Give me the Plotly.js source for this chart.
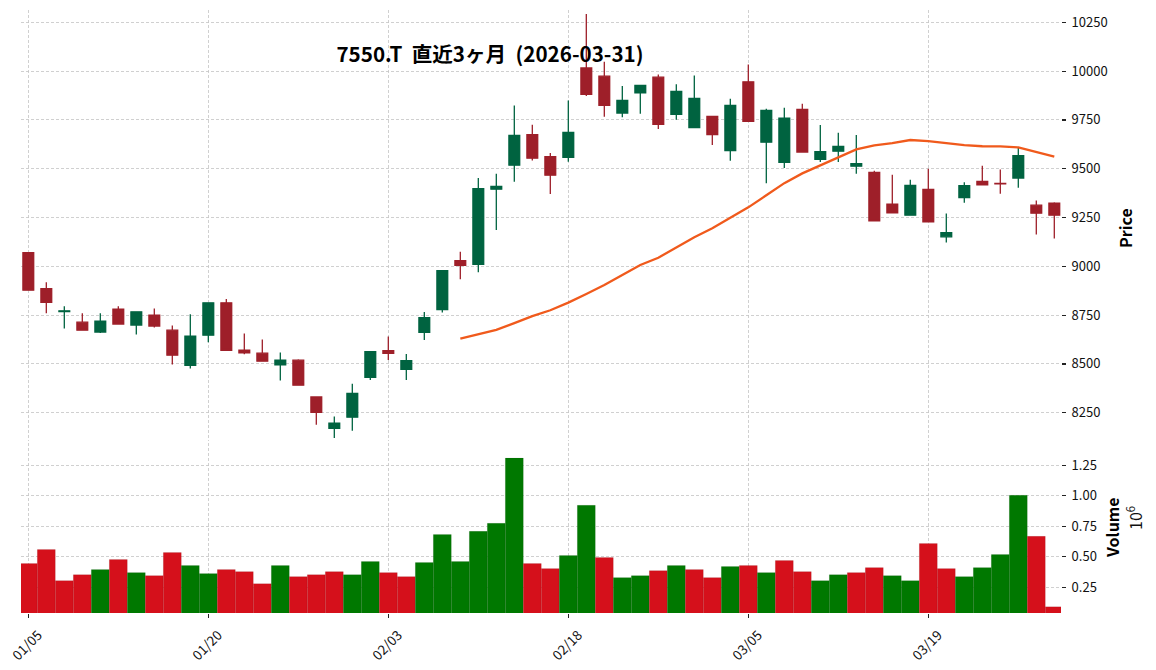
<!DOCTYPE html>
<html>
<head>
<meta charset="utf-8">
<script src="https://cdn.plot.ly/plotly-3.0.1.min.js"></script>
<style>html,body{margin:0;padding:0;background:#fff;}#chart{width:1156px;height:670px;}</style>
</head>
<body>
<div id="chart"></div>
<script>
// Trading days (category labels)
const dates = ['01/05','01/06','01/07','01/08','01/09','01/13','01/14','01/15','01/16','01/19',
  '01/20','01/21','01/22','01/23','01/26','01/27','01/28','01/29','01/30','02/02',
  '02/03','02/04','02/05','02/06','02/09','02/10','02/12','02/13','02/16','02/17',
  '02/18','02/19','02/20','02/24','02/25','02/26','02/27','03/02','03/03','03/04',
  '03/05','03/06','03/09','03/10','03/11','03/12','03/13','03/16','03/17','03/18',
  '03/19','03/23','03/24','03/25','03/26','03/27','03/30','03/31'];

const openP = [9070,8885,8768,8714,8663,8781,8699,8750,8673,8493,
  8647,8813,8570,8555,8495,8519,8331,8170,8227,8431,
  8568,8472,8662,8778,9029,9010,9395,9518,9675,9562,
  9558,10016,9974,9785,9888,9969,9778,9711,9768,9593,
  9945,9636,9533,9804,9548,9590,9513,9481,9318,9262,
  9394,9151,9352,9435,9425,9452,9313,9323];
const highP = [9070,8918,8795,8759,8759,8795,8770,8784,8697,8755,
  8813,8832,8656,8625,8558,8524,8331,8230,8399,8563,
  8640,8551,8766,8980,9074,9453,9474,9824,9725,9580,
  9850,10293,10048,9924,9927,9982,9933,9977,9768,9859,
  10034,9807,9812,9833,9724,9684,9673,9490,9469,9444,
  9500,9270,9430,9515,9496,9607,9337,9328];
const lowP = [8878,8760,8682,8673,8659,8704,8651,8687,8497,8476,
  8611,8570,8550,8514,8415,8391,8189,8121,8157,8417,
  8520,8417,8623,8764,8934,8969,9186,9433,9542,9371,
  9535,9872,9766,9764,9782,9704,9751,9711,9622,9541,
  9742,9426,9504,9585,9534,9534,9474,9233,9270,9262,
  9228,9122,9326,9417,9372,9403,9163,9143];
const closeP = [8878,8815,8772,8673,8719,8704,8767,8694,8545,8642,
  8813,8570,8557,8514,8519,8391,8252,8196,8349,8563,
  8554,8517,8737,8978,9005,9398,9409,9670,9554,9467,
  9686,9881,9825,9850,9927,9727,9896,9860,9675,9824,
  9742,9799,9759,9585,9588,9614,9526,9233,9274,9415,
  9228,9173,9413,9417,9422,9567,9272,9262];

// 25-day moving average (from index 24 onward)
const ma25Start = 24;
const ma25 = [8629,8650,8674,8709,8745,8775,8814,8858,8904,8956,
  9007,9044,9097,9149,9195,9248,9302,9364,9426,9476,
  9517,9559,9599,9619,9631,9647,9641,9631,9621,9615,
  9614,9609,9584,9562];

// Volume in millions of shares
const volumeM = [0.445,0.560,0.305,0.354,0.396,0.478,0.371,0.346,0.536,0.429,
  0.363,0.396,0.379,0.280,0.429,0.338,0.354,0.379,0.354,0.462,
  0.371,0.338,0.453,0.684,0.462,0.709,0.775,1.310,0.445,0.404,
  0.511,0.923,0.495,0.330,0.346,0.387,0.429,0.396,0.330,0.420,
  0.429,0.371,0.470,0.379,0.305,0.354,0.371,0.412,0.346,0.305,
  0.610,0.404,0.338,0.412,0.519,1.005,0.668,0.091];

const tickDates = ['01/05','01/20','02/03','02/18','03/05','03/19'];
const priceTicks = [8250,8500,8750,9000,9250,9500,9750,10000,10250];
const volTicks = [0.25,0.50,0.75,1.00,1.25];

const titleText = '7550.T  直近3ヶ月  (2026-03-31)';

const UP = '#006340', DOWN = '#9e1f29';
const VUP = '#007800', VDOWN = '#d5101b';
const FONT = 'Noto Sans CJK JP, Noto Sans, sans-serif';
const GRID = '#c4c4c4';

const volColors = closeP.map((c, i) => {
  const ref = i === 0 ? openP[0] : closeP[i - 1];
  return c >= ref ? VUP : VDOWN;
});

const traces = [
  {
    type: 'candlestick', x: dates, open: openP, high: highP, low: lowP, close: closeP,
    xaxis: 'x', yaxis: 'y', showlegend: false, whiskerwidth: 0, hoverinfo: 'skip',
    increasing: {line: {color: UP, width: 1.3}, fillcolor: UP},
    decreasing: {line: {color: DOWN, width: 1.3}, fillcolor: DOWN}
  },
  {
    type: 'scatter', mode: 'lines', x: dates.slice(ma25Start), y: ma25,
    xaxis: 'x', yaxis: 'y', showlegend: false, hoverinfo: 'skip',
    line: {color: '#f05a1c', width: 2.3}
  },
  {
    type: 'bar', x: dates, y: volumeM, xaxis: 'x', yaxis: 'y2', showlegend: false, hoverinfo: 'skip',
    width: 1, marker: {color: volColors, line: {color: 'rgba(0,0,0,0.12)', width: 0.6}}
  }
];

const layout = {
  width: 1156, height: 670,
  margin: {l: 21, r: 95, t: 10, b: 57, pad: 0},
  paper_bgcolor: '#fff', plot_bgcolor: '#fff',
  font: {family: FONT, size: 13, color: '#111'},
  boxgap: 0.4, boxgroupgap: 0, bargap: 0,
  title: {
    text: titleText, xref: 'container', yref: 'container',
    x: 490 / 1156, xanchor: 'center', y: 1 - 55 / 670, yanchor: 'middle',
    font: {family: FONT, size: 20.6, color: '#000', weight: 'bold'}
  },
  xaxis: {
    type: 'category', anchor: 'y2', range: [-0.406, 57.372],
    rangeslider: {visible: false},
    tickmode: 'array', tickvals: tickDates, ticktext: tickDates,
    tickangle: -45, ticks: 'outside', ticklen: 4, tickwidth: 1.2, tickcolor: '#222',
    ticklabelshift: 10, ticklabelstandoff: 4,
    tickfont: {family: FONT, size: 13.5, color: '#111'},
    showgrid: true, gridcolor: GRID, gridwidth: 0.8, griddash: '3px,2px',
    showline: false, zeroline: false
  },
  yaxis: {
    domain: [0.2852, 1], side: 'right', anchor: 'x', range: [8105, 10313],
    tickmode: 'array', tickvals: priceTicks, tickformat: 'd',
    ticks: 'outside', ticklen: 4, tickwidth: 1.2, tickcolor: '#222', ticklabelstandoff: 3,
    tickfont: {family: FONT, size: 13, color: '#111'},
    showgrid: true, gridcolor: GRID, gridwidth: 0.8, griddash: '3px,2px',
    showline: false, zeroline: false
  },
  yaxis2: {
    domain: [0, 0.2819], side: 'right', anchor: 'x', range: [0.04, 1.433],
    tickmode: 'array', tickvals: volTicks, tickformat: '.2f',
    ticks: 'outside', ticklen: 4, tickwidth: 1.2, tickcolor: '#222', ticklabelstandoff: 3,
    tickfont: {family: FONT, size: 13, color: '#111'},
    showgrid: true, gridcolor: GRID, gridwidth: 0.8, griddash: '3px,2px',
    showline: false, zeroline: false
  },
  annotations: [
    {text: '<b>Price</b>', xref: 'paper', yref: 'paper', x: (1125 - 21) / 1040, y: (613 - 228) / 603,
     xanchor: 'center', yanchor: 'middle', textangle: -90, showarrow: false,
     font: {family: FONT, size: 16, color: '#000'}},
    {text: '<b>Volume</b>', xref: 'paper', yref: 'paper', x: (1112 - 21) / 1040, y: (613 - 528) / 603,
     xanchor: 'center', yanchor: 'middle', textangle: -90, showarrow: false,
     font: {family: FONT, size: 16, color: '#000'}},
    {text: '10<sup>6</sup>', xref: 'paper', yref: 'paper', x: (1134 - 21) / 1040, y: (613 - 518) / 603,
     xanchor: 'center', yanchor: 'middle', textangle: -90, showarrow: false,
     font: {family: FONT, size: 16, color: '#111'}}
  ]
};

Plotly.newPlot('chart', traces, layout, {staticPlot: true, displayModeBar: false});
</script>
</body>
</html>
